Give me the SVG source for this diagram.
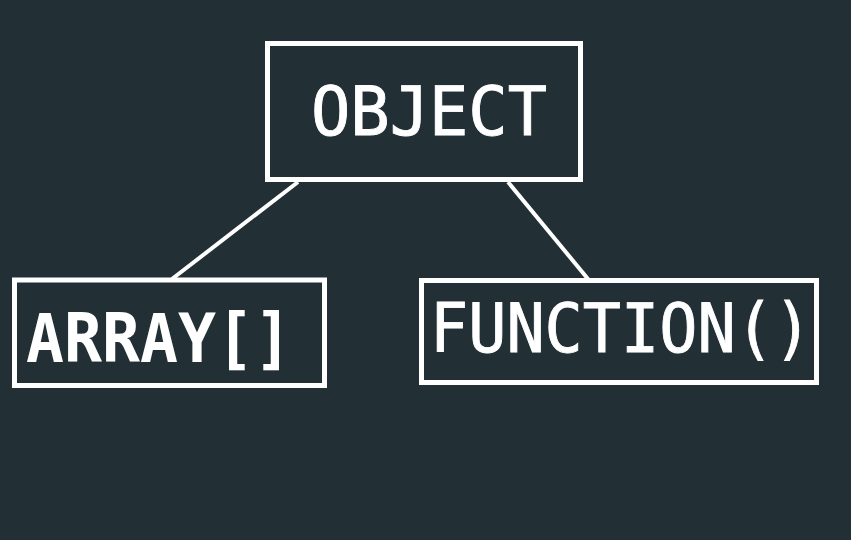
<svg xmlns="http://www.w3.org/2000/svg" width="851" height="540" viewBox="0 0 851 540">
<style>
.box{fill:none;stroke:#ffffff;stroke-width:5}
.lbl{fill:#ffffff;font-family:"DejaVu Sans Mono","Liberation Mono",monospace;font-size:68px}
.reg{stroke:#ffffff;stroke-width:0.9}
.edge{stroke:#ffffff;stroke-width:4;fill:none}
</style>
<rect width="851" height="540" fill="#223036"/>
<g id="connectors">
<line class="edge" x1="298" y1="182" x2="172" y2="279"/>
<line class="edge" x1="508" y1="182" x2="588" y2="279"/>
</g>
<g id="object">
<rect class="box" x="267.5" y="43.5" width="313" height="136"/>
<text class="lbl reg" x="311" y="135" textLength="236" lengthAdjust="spacingAndGlyphs">OBJECT</text>
</g>
<g id="array">
<rect class="box" x="14.5" y="280" width="310" height="105.5"/>
<text class="lbl" x="26" y="362" font-weight="bold" textLength="266" lengthAdjust="spacingAndGlyphs">ARRAY[]</text>
</g>
<g id="function">
<rect class="box" x="421.5" y="280.5" width="395" height="102"/>
<text class="lbl reg" x="430" y="352" textLength="382" lengthAdjust="spacingAndGlyphs">FUNCTION()</text>
</g>
</svg>
